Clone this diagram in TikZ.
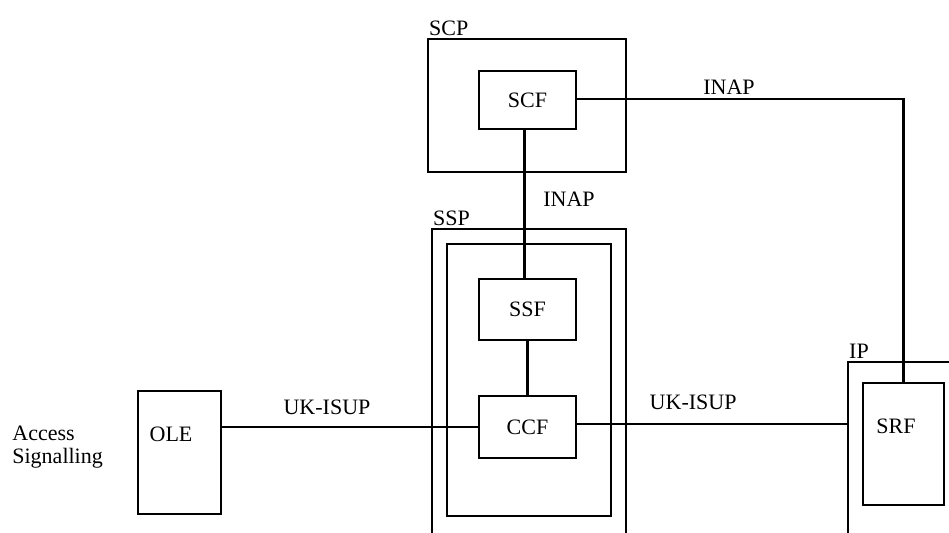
\documentclass[tikz,border=0pt]{standalone}
\usepackage{fontspec}
\setmainfont{Liberation Serif}
\usetikzlibrary{positioning}

\begin{document}
\begin{tikzpicture}[x=0.5pt,y=-0.5pt,every node/.style={font=\fontsize{11pt}{11.5pt}\selectfont}]
    \tikzstyle{box}=[draw,line width=1.2pt,inner sep=0pt]
    \tikzstyle{link}=[line width=1.2pt]
    \useasboundingbox (0,0) rectangle (949,532);
    \clip (0,0) rectangle (949,532);

    % containers
    \node at (527,105.5) (scp) [box,minimum width=99pt,minimum height=66.5pt] {};
    \node at (529,387) (ssp) [box,minimum width=97pt,minimum height=158pt] {};
    \node at (529,380) (sspin) [box,minimum width=82pt,minimum height=136pt] {};
    \node at (906.5,453.5) (ip) [box,minimum width=58.5pt,minimum height=91.5pt] {};

    \node at (scp.north west) (scplabel) [anchor=south west,inner sep=1pt] {SCP};
    \node at (ssp.north west) (ssplabel) [anchor=south west,inner sep=1pt] {SSP};
    \node at (ip.north west) (iplabel) [anchor=south west,inner sep=1pt] {IP};

    % functions
    \node at (527.5,100) (scf) [box,minimum width=48.5pt,minimum height=29pt] {SCF};
    \node at (527.5,309.5) (ssf) [box,minimum width=48.5pt,minimum height=30.5pt] {SSF};
    \node at (527.5,427) (ccf) [box,minimum width=48.5pt,minimum height=31pt] {CCF};
    \node at (179.5,452.5) (ole) [box,minimum width=41.5pt,minimum height=61.5pt] {};
    \node at (171,434) (oletext) {OLE};
    \node at (903.5,444) (srf) [box,minimum width=40.5pt,minimum height=61pt] {};
    \node at (896,426) (srftext) {SRF};

    \node at (12,447) (access) [anchor=west,align=left,inner sep=0pt] {Access\\Signalling};

    % links
    \draw[link] ([xshift=-1.5pt]scf.south) -- ([xshift=-1.5pt]scf.south |- ssf.north);
    \draw[link] (ssf.south) -- (ccf.north);
    \draw[link] (ole.east |- ccf.west) -- (ccf.west) node [pos=0.41,above=2pt] (isupl) {UK-ISUP};
    \draw[link] ([yshift=1.5pt]ccf.east) -- ([yshift=1.5pt]ccf.east -| ip.west) node [pos=0.43,above=3pt] (isupr) {UK-ISUP};
    \draw[link] ([yshift=0.5pt]scf.east) -| (srf.north);
    \node at (729,87) (inaptop) {INAP};
    \node at (569,199) (inapmid) {INAP};

\end{tikzpicture}
\end{document}
